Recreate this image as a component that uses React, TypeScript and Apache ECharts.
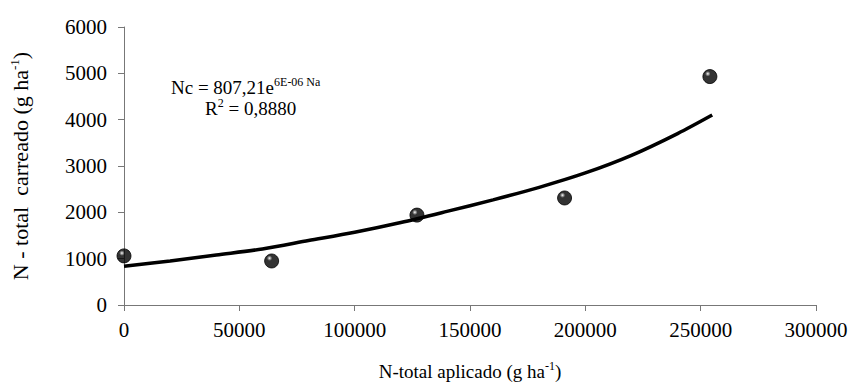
import React, { useEffect, useRef } from "react";
import * as echarts from "echarts";

const obsX = [0, 64000, 127000, 191000, 254000];
const obsY = [1060, 950, 1940, 2310, 4930];

const fitX = [0, 20000, 40000, 60000, 80000, 100000, 120000, 140000, 160000, 180000, 200000, 220000, 240000, 255000];
const fitY = [835, 950, 1080, 1210, 1390, 1570, 1780, 2020, 2270, 2540, 2850, 3230, 3700, 4100];

const xTicks = [0, 50000, 100000, 150000, 200000, 250000, 300000];
const yTicks = [0, 1000, 2000, 3000, 4000, 5000, 6000];

const FONT = "Liberation Serif";

export default function App() {
  const ref = useRef<HTMLDivElement>(null);
  useEffect(() => {
    if (!ref.current) return;
    const chart = echarts.init(ref.current, undefined, { renderer: "svg" });
    const supStyle = { fontFamily: FONT, fontSize: 12, color: "#000", verticalAlign: "top", lineHeight: 14 };
    const baseStyle = { fontFamily: FONT, fontSize: 19, color: "#000", lineHeight: 22 };
    const yBase = { fontFamily: FONT, fontSize: 22, color: "#000", lineHeight: 24 };
    const ySup = { fontFamily: FONT, fontSize: 13, color: "#000", verticalAlign: "top", lineHeight: 15 };
    const tickStyle = { fontFamily: FONT, fontSize: 21, color: "#000", lineHeight: 22 };
    chart.setOption({
      animation: false,
      backgroundColor: "#fff",
      textStyle: { fontFamily: FONT },
      grid: { left: 117, top: 27, width: 699, height: 278, containLabel: false },
      xAxis: {
        type: "value",
        min: xTicks[0],
        max: xTicks[xTicks.length - 1],
        interval: 50000,
        splitLine: { show: false },
        axisLine: { show: true, lineStyle: { color: "#777", width: 1 } },
        axisTick: { show: true, length: 6, lineStyle: { color: "#777" } },
        axisLabel: {
          fontFamily: FONT,
          fontSize: 21,
          color: "#000",
          margin: 14,
          formatter: (v: number) => "{t|" + String(v) + "}",
          rich: { t: tickStyle },
        },
        name: "{b|N-total aplicado (g ha}{s|-1}{b|)}",
        nameLocation: "middle",
        nameGap: 55,
        nameTextStyle: { rich: { b: baseStyle, s: supStyle } },
      },
      yAxis: {
        type: "value",
        min: yTicks[0],
        max: yTicks[yTicks.length - 1],
        interval: 1000,
        splitLine: { show: false },
        axisLine: { show: true, lineStyle: { color: "#777", width: 1 } },
        axisTick: { show: true, length: 6, lineStyle: { color: "#777" } },
        axisLabel: {
          fontFamily: FONT,
          fontSize: 21,
          color: "#000",
          margin: 17,
          formatter: (v: number) => "{t|" + String(v) + "}",
          rich: { t: tickStyle },
        },
        name: "{b|N - total  carreado (g ha}{s|-1}{b|)}",
        nameLocation: "middle",
        nameGap: 92,
        nameRotate: 90,
        nameTextStyle: { rich: { b: yBase, s: ySup } },
      },
      series: [
        {
          type: "line",
          data: fitX.map((x, i) => [x, fitY[i]]),
          smooth: 0.3,
          showSymbol: false,
          lineStyle: { color: "#000", width: 3.5 },
          z: 2,
        },
        {
          type: "scatter",
          data: obsX.map((x, i) => [x, obsY[i]]),
          symbol: "circle",
          symbolSize: 14,
          itemStyle: {
            color: new echarts.graphic.RadialGradient(0.35, 0.3, 0.55, [
              { offset: 0, color: "#ffffff" },
              { offset: 0.15, color: "#888888" },
              { offset: 0.35, color: "#000000" },
              { offset: 1, color: "#000000" },
            ]),
            borderColor: "#000",
            borderWidth: 1,
          },
          z: 3,
        },
      ],
      graphic: [
        {
          type: "text",
          left: 171,
          top: 76,
          style: {
            text: "{b|Nc = 807,21e}{s|6E-06 Na}",
            rich: { b: baseStyle, s: supStyle },
          },
        },
        {
          type: "text",
          left: 205,
          top: 97,
          style: {
            text: "{b|R}{s|2}{b| = 0,8880}",
            rich: { b: baseStyle, s: supStyle },
          },
        },
      ],
    });
    return () => chart.dispose();
  }, []);
  return (
    <div
      ref={ref}
      style={{ position: "absolute", left: 0, top: 0, width: 853, height: 388 }}
    />
  );
}
